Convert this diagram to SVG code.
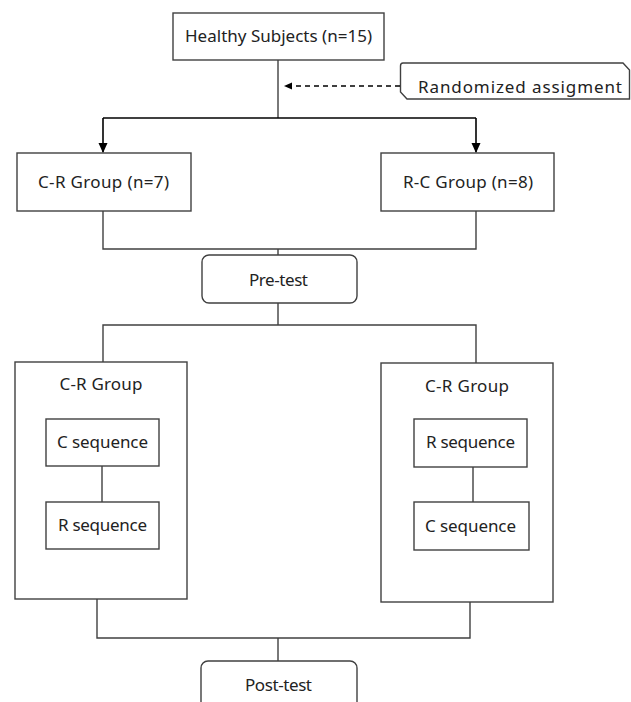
<svg xmlns="http://www.w3.org/2000/svg" width="631" height="702" viewBox="0 0 631 702">
<style>
.box{fill:#fff;stroke:#404040;stroke-width:1.4}
.ln{fill:none;stroke:#404040;stroke-width:1.4}
.ar{fill:none;stroke:#000;stroke-width:1.6}
.t{font-family:"Noto Sans","Open Sans","DejaVu Sans",sans-serif;font-size:17px;fill:#222;text-anchor:middle}
</style>
<defs>
<marker id="ah" markerWidth="10" markerHeight="10" refX="9" refY="5" orient="auto" markerUnits="userSpaceOnUse">
<path d="M0,0.5 L10,5 L0,9.5 Z" fill="#000"/>
</marker>
<marker id="ahs" markerWidth="8" markerHeight="8" refX="7" refY="4" orient="auto" markerUnits="userSpaceOnUse">
<path d="M0,0.5 L8,4 L0,7.5 Z" fill="#000"/>
</marker>
</defs>
<g id="healthy">
<rect class="box" x="173" y="13" width="211" height="47"/>
<text class="t" x="278.5" y="42" textLength="187" lengthAdjust="spacing">Healthy Subjects (n=15)</text>
</g>
<g id="randomized">
<path class="box" d="M403,63 H623 L629.5,70 V99 H407 L400.5,92 V66 Q400.5,63 403,63 Z"/>
<text class="t" x="520" y="93" textLength="204" lengthAdjust="spacing">Randomized assigment</text>
</g>
<g id="cr-group">
<rect class="box" x="17" y="153" width="174" height="58"/>
<text class="t" x="103.5" y="188" textLength="131" lengthAdjust="spacing">C-R Group (n=7)</text>
</g>
<g id="rc-group">
<rect class="box" x="381" y="153" width="173" height="58"/>
<text class="t" x="468" y="188" textLength="130" lengthAdjust="spacing">R-C Group (n=8)</text>
</g>
<g id="pretest">
<rect class="box" x="202" y="255" width="155" height="48" rx="7"/>
<text class="t" x="278.5" y="286" textLength="59" lengthAdjust="spacing">Pre-test</text>
</g>
<g id="left-block">
<rect class="box" x="15" y="362" width="172" height="237"/>
<text class="t" x="101" y="390" textLength="83" lengthAdjust="spacing">C-R Group</text>
</g>
<g id="right-block">
<rect class="box" x="381" y="363" width="172" height="239"/>
<text class="t" x="467" y="392" textLength="84" lengthAdjust="spacing">C-R Group</text>
</g>
<g id="left-c-seq">
<rect class="box" x="46" y="419" width="113" height="47"/>
<text class="t" x="102.5" y="448" textLength="91" lengthAdjust="spacing">C sequence</text>
</g>
<g id="left-r-seq">
<rect class="box" x="46" y="502" width="113" height="47"/>
<text class="t" x="102.5" y="531" textLength="89" lengthAdjust="spacing">R sequence</text>
</g>
<g id="right-r-seq">
<rect class="box" x="414" y="419" width="113" height="48"/>
<text class="t" x="470.5" y="448" textLength="89" lengthAdjust="spacing">R sequence</text>
</g>
<g id="right-c-seq">
<rect class="box" x="414" y="502" width="115" height="48"/>
<text class="t" x="470.5" y="532" textLength="91" lengthAdjust="spacing">C sequence</text>
</g>
<g id="posttest">
<rect class="box" x="201" y="661" width="156" height="60" rx="7"/>
<text class="t" x="278.5" y="691" textLength="67" lengthAdjust="spacing">Post-test</text>
</g>
<g id="connectors">
<path class="ln" d="M278,60 V118"/>
<path class="ar" d="M103,118 H476"/>
<path class="ar" d="M103,118 V152" marker-end="url(#ah)"/>
<path class="ar" d="M476,118 V152" marker-end="url(#ah)"/>
<path class="ar" d="M400,86 H285" stroke-dasharray="5,4" marker-end="url(#ahs)"/>
<path class="ln" d="M103,211 V249 H476 V211"/>
<path class="ln" d="M278,249 V255"/>
<path class="ln" d="M278,303 V325"/>
<path class="ln" d="M103,362 V325 H476 V363"/>
<path class="ln" d="M102,466 V502"/>
<path class="ln" d="M473,467 V502"/>
<path class="ln" d="M97,599 V638 H470 V602"/>
<path class="ln" d="M278,638 V661"/>
</g>
</svg>
